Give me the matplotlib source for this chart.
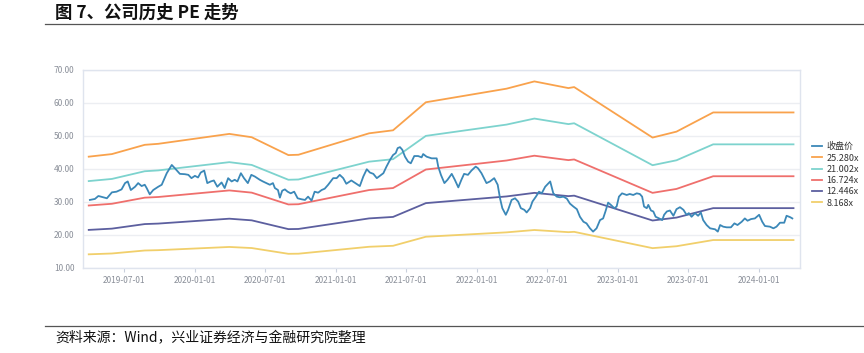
import matplotlib
matplotlib.use("Agg")
import matplotlib.pyplot as plt
import matplotlib.dates as mdates
import numpy as np
import pandas as pd

plt.rcParams['font.family'] = ['Noto Sans CJK SC', 'DejaVu Sans']

# 收盘价
price_dates = [
    "2019-04-04", "2019-04-17", "2019-04-26", "2019-05-09", "2019-05-18", "2019-05-31",
    "2019-06-12", "2019-06-25", "2019-07-04", "2019-07-11", "2019-07-19", "2019-07-30",
    "2019-08-07", "2019-08-16", "2019-08-24", "2019-08-29", "2019-09-06", "2019-09-15",
    "2019-09-28", "2019-10-07", "2019-10-20", "2019-11-02", "2019-11-10", "2019-11-23",
    "2019-12-06", "2019-12-15", "2019-12-23", "2020-01-01", "2020-01-09", "2020-01-16",
    "2020-01-25", "2020-02-02", "2020-02-11", "2020-02-19", "2020-02-28", "2020-03-10",
    "2020-03-18", "2020-03-27", "2020-04-05", "2020-04-13", "2020-04-20", "2020-04-29",
    "2020-05-07", "2020-05-17", "2020-05-26", "2020-06-04", "2020-06-17", "2020-06-25",
    "2020-07-04", "2020-07-13", "2020-07-21", "2020-07-26", "2020-08-03", "2020-08-08",
    "2020-08-14", "2020-08-21", "2020-08-28", "2020-09-05", "2020-09-14", "2020-09-23",
    "2020-10-03", "2020-10-12", "2020-10-20", "2020-10-29", "2020-11-06", "2020-11-15",
    "2020-11-24", "2020-12-02", "2020-12-11", "2020-12-24", "2021-01-02", "2021-01-10",
    "2021-01-19", "2021-01-27", "2021-02-09", "2021-02-22", "2021-03-03", "2021-03-12",
    "2021-03-21", "2021-03-29", "2021-04-07", "2021-04-16", "2021-04-24", "2021-05-03",
    "2021-05-11", "2021-05-20", "2021-05-28", "2021-06-04", "2021-06-09", "2021-06-15",
    "2021-06-21", "2021-06-28", "2021-07-06", "2021-07-13", "2021-07-22", "2021-08-01",
    "2021-08-10", "2021-08-14", "2021-08-23", "2021-09-05", "2021-09-18", "2021-09-22",
    "2021-09-29", "2021-10-08", "2021-10-16", "2021-10-27", "2021-11-04", "2021-11-13",
    "2021-11-21", "2021-11-28", "2021-12-08", "2021-12-17", "2021-12-28", "2022-01-03",
    "2022-01-12", "2022-01-25", "2022-02-03", "2022-02-14", "2022-02-23", "2022-03-01",
    "2022-03-07", "2022-03-16", "2022-03-22", "2022-03-31", "2022-04-09", "2022-04-17",
    "2022-04-24", "2022-05-03", "2022-05-09", "2022-05-18", "2022-05-24", "2022-06-02",
    "2022-06-10", "2022-06-17", "2022-06-26", "2022-07-09", "2022-07-17", "2022-07-26",
    "2022-08-03", "2022-08-12", "2022-08-21", "2022-08-29", "2022-09-07", "2022-09-16",
    "2022-09-24", "2022-10-03", "2022-10-11", "2022-10-20", "2022-10-28", "2022-11-06",
    "2022-11-15", "2022-11-23", "2022-11-29", "2022-12-06", "2022-12-13", "2022-12-22",
    "2022-12-28", "2023-01-03", "2023-01-11", "2023-01-23", "2023-01-31", "2023-02-09",
    "2023-02-18", "2023-02-26", "2023-03-04", "2023-03-09", "2023-03-16", "2023-03-20",
    "2023-03-27", "2023-04-02", "2023-04-08", "2023-04-17", "2023-04-25", "2023-04-30",
    "2023-05-07", "2023-05-15", "2023-05-24", "2023-06-01", "2023-06-10", "2023-06-19",
    "2023-06-27", "2023-07-03", "2023-07-10", "2023-07-19", "2023-07-27", "2023-08-03",
    "2023-08-09", "2023-08-18", "2023-08-27", "2023-09-09", "2023-09-16", "2023-09-22",
    "2023-09-30", "2023-10-09", "2023-10-20", "2023-10-29", "2023-11-06", "2023-11-17",
    "2023-11-25", "2023-12-02", "2023-12-11", "2023-12-21", "2024-01-01", "2024-01-09",
    "2024-01-16", "2024-01-29", "2024-02-07", "2024-02-15", "2024-02-24", "2024-03-06",
    "2024-03-12", "2024-03-21", "2024-03-27",
]
price = [
    30.6, 30.9, 31.8, 31.4, 31.1, 32.9,
    33.1, 33.8, 35.7, 36.2, 33.6, 34.6,
    35.7, 34.8, 35.2, 34.2, 32.3, 33.6,
    34.6, 35.2, 38.7, 41.2, 40.2, 38.5,
    38.4, 38.2, 37.2, 37.9, 37.4, 38.9,
    39.5, 35.7, 36.2, 36.5, 34.6, 35.9,
    34.2, 37.2, 36.2, 36.7, 36.2, 38.7,
    37.2, 35.7, 38.2, 37.7, 36.7, 36.2,
    35.7, 35.2, 35.7, 34.2, 33.6, 31.3,
    33.4, 33.8, 33.1, 32.6, 33.1, 31.1,
    30.8, 30.6, 31.6, 30.4, 33.1, 32.8,
    33.6, 34.0, 35.2, 37.2, 37.2, 38.2,
    37.2, 35.5, 36.5, 35.5, 34.8, 37.7,
    39.9, 38.9, 38.5, 37.2, 37.9, 38.7,
    40.7, 42.7, 44.2, 44.8, 46.3, 46.6,
    45.8, 43.7, 42.2, 41.7, 43.9, 43.9,
    43.5, 44.5, 43.7, 43.2, 43.2, 40.7,
    38.2, 35.7, 36.7, 38.5, 36.7, 34.4,
    36.7, 38.5, 38.2, 39.5, 40.7, 40.2,
    38.7, 35.7, 36.2, 37.2, 35.2, 31.1,
    28.1, 26.1, 27.6, 30.6, 31.1, 30.1,
    28.1, 27.6, 26.8, 28.1, 30.1, 31.6,
    33.1, 32.6, 34.6, 36.2, 32.6, 31.6,
    31.4, 31.6, 31.0, 29.5, 28.6, 27.8,
    25.5, 24.0, 23.5, 22.0, 21.0, 22.0,
    24.5, 25.0, 27.1, 29.8, 29.1, 28.1,
    28.6, 31.6, 32.6, 32.1, 32.4, 32.1,
    32.6, 32.4, 31.6, 28.6, 28.1, 29.1,
    27.4, 27.1, 25.5, 25.0, 24.5, 26.1,
    27.1, 27.4, 25.8, 27.8, 28.4, 27.6,
    26.1, 26.6, 25.5, 26.6, 25.8, 26.8,
    24.5, 23.0, 22.0, 21.7, 21.0, 23.0,
    22.5, 22.3, 22.3, 23.5, 23.0, 24.0,
    25.0, 24.3, 24.8, 25.0, 26.1, 24.0,
    22.7, 22.5, 22.0, 22.5, 23.7, 23.7,
    25.8, 25.4, 25.0,
]

# 每股收益 (PE band 基准)
eps_dates = [
    "2019-04-01", "2019-05-31", "2019-08-24", "2019-09-28", "2020-03-30", "2020-05-27",
    "2020-08-30", "2020-09-25", "2021-03-27", "2021-05-28", "2021-08-21", "2022-03-18",
    "2022-05-29", "2022-08-25", "2022-09-09", "2023-03-31", "2023-06-01", "2023-09-04",
    "2024-03-30",
]
eps = [
    1.729, 1.760, 1.871, 1.883, 2.002, 1.962,
    1.748, 1.752, 2.009, 2.045, 2.381, 2.544,
    2.631, 2.551, 2.563, 1.958, 2.029, 2.259,
    2.259,
]

pe_multiples = [25.280, 21.002, 16.724, 12.446, 8.168]
band_colors = ['#f9a24c', '#7dd3ce', '#ef6f6c', '#5c5f9f', '#f1cf6b']
price_color = '#3b88b8'

title = "图 7、公司历史 PE 走势"
source = "资料来源：Wind，兴业证券经济与金融研究院整理"

price_x = pd.to_datetime(price_dates)
eps_x = pd.to_datetime(eps_dates)
eps_arr = np.array(eps)

fig = plt.figure(figsize=(8.64, 3.53), dpi=100)
ax = fig.add_axes([0.096, 0.241, 0.830, 0.561])

ax.plot(price_x, price, color=price_color, lw=1.3, label="收盘价", zorder=5)
for m, c in zip(pe_multiples, band_colors):
    ax.plot(eps_x, eps_arr * m, color=c, lw=1.3, label=f"{m:.3f}x", zorder=3)

ax.set_ylim(10, 70)
ax.set_yticks(np.arange(10, 71, 10))
ax.yaxis.set_major_formatter(matplotlib.ticker.FormatStrFormatter('%.2f'))
ax.set_xlim(pd.Timestamp("2019-03-17"), pd.Timestamp("2024-04-16"))
ax.xaxis.set_major_locator(mdates.MonthLocator(bymonth=[1, 7]))
ax.xaxis.set_major_formatter(mdates.DateFormatter('%Y-%m-%d'))

ax.grid(axis='y', color='#eceef2', lw=1.0)
ax.set_axisbelow(True)
for s in ax.spines.values():
    s.set_color('#dfe4ee')
    s.set_linewidth(1.0)
ax.tick_params(axis='y', length=0, labelsize=6, labelcolor='#8a8f99', pad=6)
ax.tick_params(axis='x', length=3, color='#c9d0dc', labelsize=6, labelcolor='#8a8f99', pad=3)

leg = ax.legend(loc='center left', bbox_to_anchor=(1.005, 0.47), frameon=False,
                fontsize=6.5, handlelength=1.1, handletextpad=0.5, labelspacing=0.25)
for t in leg.get_texts():
    t.set_color('#333333')

# 标题与分隔线
fig.text(0.064, 0.965, title, fontsize=12.5, fontweight='bold', va='center', ha='left', color='#111111')
fig.add_artist(plt.Line2D([0.052, 1.0], [0.932, 0.932], color='#555555', lw=0.9))
fig.add_artist(plt.Line2D([0.052, 1.0], [0.077, 0.077], color='#555555', lw=0.9))
fig.text(0.064, 0.042, source, fontsize=10, va='center', ha='left', color='#111111')

fig.savefig("out.png", dpi=100, facecolor='white')
